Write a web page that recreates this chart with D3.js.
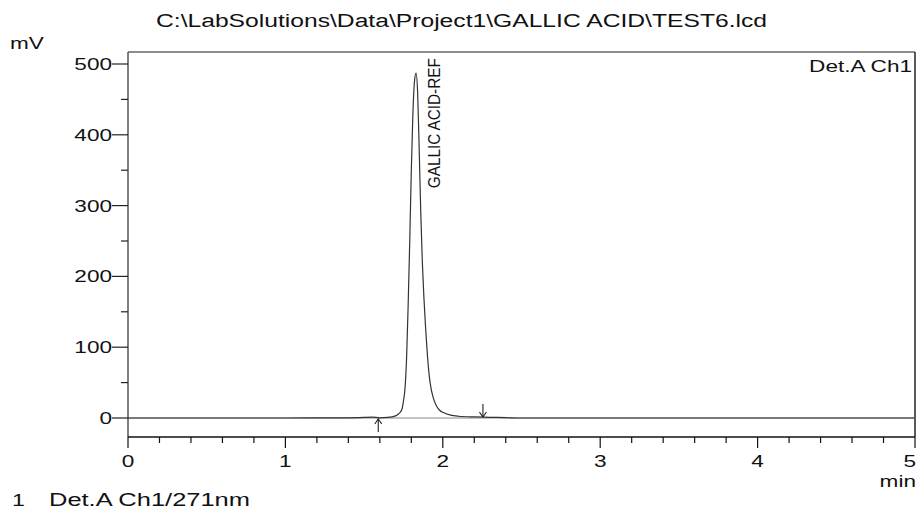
<!DOCTYPE html>
<html><head><meta charset="utf-8">
<script src="https://cdn.jsdelivr.net/npm/d3@7"></script>
<style>body{margin:0;background:#fff}svg{display:block;font-family:"Liberation Sans",Arial,sans-serif}</style>
</head><body><svg id="c" width="917" height="510"></svg>
<script>
const times = [0,0.5,1.0,1.4,1.5,1.55,1.6,1.65,1.7,1.72,1.74,1.75,1.76,1.77,1.78,1.79,1.80,1.81,1.82,1.83,1.84,1.85,1.86,1.87,1.88,1.89,1.90,1.91,1.92,1.94,1.96,1.98,2.0,2.05,2.1,2.2,2.3,2.4,2.5,3,4,5];
const signal = [0,0,0,0.3,0.8,1.2,0.3,0.8,3,6,12,24,42,85,160,250,350,430,475,487,460,380,290,220,170,130,96,68,49,28,17,11,8,4,2.5,1.5,1,0.5,0,0,0,0];
const xTicks = [0,1,2,3,4,5];
const yTicks = [0,100,200,300,400,500];
const peakName = "GALLIC ACID-REF";
const peakTime = 1.83, peakHeight = 487;
const startMark = 1.59, endMark = 2.255;
const title = "C:\\LabSolutions\\Data\\Project1\\GALLIC ACID\\TEST6.lcd";

const svg = d3.select("#c");
const L=128, R=915, T=52, B=437;
const SX = 1.37;
const x = d3.scaleLinear().domain([0,5]).range([L,R]);
const y = d3.scaleLinear().domain([0,500]).range([418,64]);

function txt(px, py, str, anchor, size){
  const g = svg.append("g").attr("transform",`translate(${px},${py}) scale(${SX},1)`);
  return g.append("text").attr("x",0).attr("y",0).attr("text-anchor",anchor||"start")
    .attr("font-size",size||16.5).attr("fill","#111").attr("xml:space","preserve").text(str);
}

// frame
svg.append("line").attr("x1",L).attr("x2",R).attr("y1",T).attr("y2",T).attr("stroke","#666").attr("stroke-width",1.5);
svg.append("line").attr("x1",R).attr("x2",R).attr("y1",T).attr("y2",B).attr("stroke","#222").attr("stroke-width",1.5);

// zero line
svg.append("line").attr("x1",L).attr("x2",R).attr("y1",y(0)).attr("y2",y(0)).attr("stroke","#888").attr("stroke-width",1.2);

// y axis
svg.append("line").attr("x1",L).attr("x2",L).attr("y1",T).attr("y2",B).attr("stroke","#555").attr("stroke-width",1.5);
d3.range(-50,550,50).filter(v=>v%100!==0 && y(v)>=T && y(v)<=B).forEach(v=>{
  svg.append("line").attr("x1",L-7).attr("x2",L).attr("y1",y(v)).attr("y2",y(v)).attr("stroke","#222").attr("stroke-width",1.2);
});
yTicks.forEach(v=>{
  svg.append("line").attr("x1",L-16).attr("x2",L).attr("y1",y(v)).attr("y2",y(v)).attr("stroke","#222").attr("stroke-width",1.2);
  txt(L-16, y(v)+6, String(v), "end", 16.5);
});

// x axis
svg.append("line").attr("x1",L).attr("x2",R).attr("y1",B).attr("y2",B).attr("stroke","#111").attr("stroke-width",1.5);
d3.range(0,5.01,0.2).forEach(v=>{
  const major = Math.abs(v-Math.round(v))<1e-6;
  svg.append("line").attr("x1",x(v)).attr("x2",x(v)).attr("y1",B).attr("y2",B+(major?11:6)).attr("stroke","#111").attr("stroke-width",1.2);
});
xTicks.forEach(v=>{
  if (v===5) txt(916, B+30, String(v), "end", 16.5);
  else txt(x(v), B+30, String(v), "middle", 16.5);
});

// trace
const data = times.map((t,i)=>[t,signal[i]]);
svg.append("path").datum(data).attr("fill","none").attr("stroke","#333").attr("stroke-width",1.2)
  .attr("d", d3.line().x(d=>x(d[0])).y(d=>y(d[1])).curve(d3.curveMonotoneX));

// markers
function arrow(t, up){
  const px = x(t);
  const g = svg.append("g").attr("stroke","#222").attr("stroke-width",1.1).attr("fill","none");
  if(up){
    const y0 = y(0)+1;
    g.append("line").attr("x1",px).attr("x2",px).attr("y1",y0).attr("y2",y0+13);
    g.append("path").attr("d",`M${px-3.5},${y0+5}L${px},${y0}L${px+3.5},${y0+5}`);
  } else {
    const y0 = y(0)-1;
    g.append("line").attr("x1",px).attr("x2",px).attr("y1",y0-13).attr("y2",y0);
    g.append("path").attr("d",`M${px-3.5},${y0-5}L${px},${y0}L${px+3.5},${y0-5}`);
  }
}
arrow(startMark,true);
arrow(endMark,false);

// peak label
svg.append("text").attr("transform",`translate(${x(peakTime)+24},${y(peakHeight)+115}) rotate(-90)`)
  .attr("font-family","'Liberation Sans Narrow','Liberation Sans',Arial,sans-serif").attr("font-size",17).attr("fill","#111")
  .attr("textLength",130).attr("lengthAdjust","spacingAndGlyphs").text(peakName);

// texts
svg.append("text").attr("x",156).attr("y",27).attr("font-size",18).attr("fill","#111")
  .attr("textLength",611).attr("lengthAdjust","spacingAndGlyphs").text(title);
txt(10, 49, "mV", "start", 16.5);
txt(912, 72, "Det.A Ch1", "end", 16.5);
txt(916, 487, "min", "end", 16.5);
txt(12, 506, "1", "start", 17);
svg.append("text").attr("x",49).attr("y",506).attr("font-size",17.5).attr("fill","#111")
  .attr("textLength",201).attr("lengthAdjust","spacingAndGlyphs").text("Det.A Ch1/271nm");
</script></body></html>
